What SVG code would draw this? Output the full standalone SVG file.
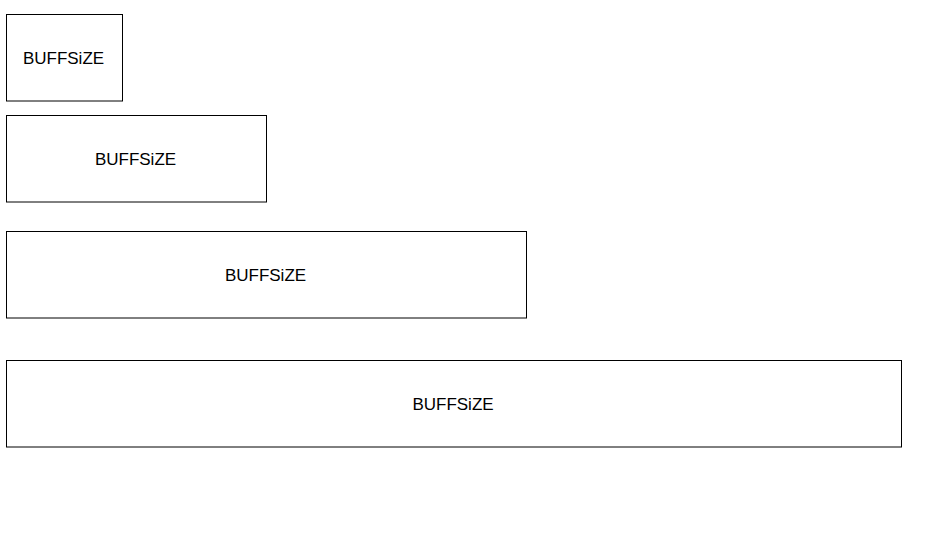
<svg xmlns="http://www.w3.org/2000/svg" width="947" height="553" viewBox="0 0 947 553">
<style>
rect{fill:#fff;stroke:#000;stroke-width:1}
text{font-family:"Liberation Sans",Arial,sans-serif;font-size:17px;fill:#000;text-anchor:middle;dominant-baseline:central}
</style>
<rect x="0" y="0" width="947" height="553" style="stroke:none"/>
<g id="box1"><rect x="6.5" y="14.5" width="116" height="86.5"/><text x="63.5" y="58">BUFFSiZE</text></g>
<g id="box2"><rect x="6.5" y="115.5" width="260" height="86.5"/><text x="135.5" y="159">BUFFSiZE</text></g>
<g id="box3"><rect x="6.5" y="231.5" width="520" height="86.5"/><text x="265.5" y="275">BUFFSiZE</text></g>
<g id="box4"><rect x="6.5" y="360.5" width="895" height="86.5"/><text x="453" y="404">BUFFSiZE</text></g>
<g id="connectors"></g>
</svg>
